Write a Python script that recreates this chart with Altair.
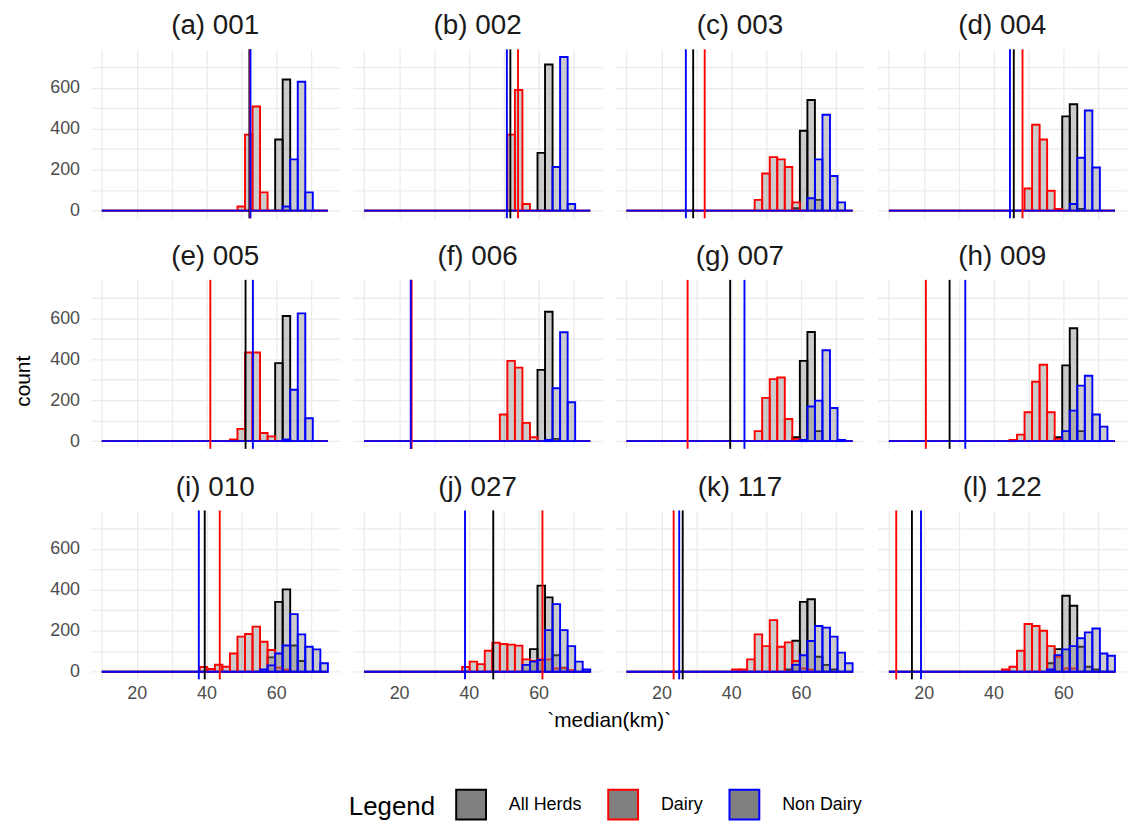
import altair as alt
import pandas as pd

PANELS = ["(a) 001", "(b) 002", "(c) 003", "(d) 004",
          "(e) 005", "(f) 006", "(g) 007", "(h) 009",
          "(i) 010", "(j) 027", "(k) 117", "(l) 122"]
GROUPS = ["All Herds", "Dairy", "Non Dairy"]
COLORS = ["#000000", "#FF0000", "#0000FF"]

# histogram bins (30 bins, shared by all panels)
BIN_START = 10.0
BIN_WIDTH = 2.16
N_BINS = 30

# sparse counts per panel: (index of first listed bin, counts)
ALL_HERDS = {
    "(a) 001": (23, [347, 640]),
    "(b) 002": (23, [282, 713]),
    "(c) 003": (22, [11, 390, 540, 52]),
    "(d) 004": (23, [460, 519, 8]),
    "(e) 005": (23, [381, 611]),
    "(f) 006": (23, [348, 632, 11]),
    "(g) 007": (22, [19, 392, 533, 49]),
    "(h) 009": (22, [19, 370, 551, 49]),
    "(i) 010": (22, [70, 341, 402, 128, 52]),
    "(j) 027": (22, [110, 420, 363, 80, 20]),
    "(k) 117": (21, [11, 151, 341, 354, 73, 33, 11]),
    "(l) 122": (21, [41, 110, 371, 322, 122, 24, 11]),
}
DAIRY = {
    "(a) 001": (18, [20, 371, 508, 89]),
    "(b) 002": (19, [371, 589, 32]),
    "(c) 003": (17, [52, 181, 261, 250, 213, 40]),
    "(d) 004": (18, [108, 419, 347, 97, 8]),
    "(e) 005": (17, [8, 60, 433, 433, 40, 23]),
    "(f) 006": (18, [130, 392, 359, 89, 19]),
    "(g) 007": (17, [49, 211, 303, 311, 108, 11]),
    "(h) 009": (16, [6, 32, 141, 290, 373, 141, 11]),
    "(i) 010": (13, [23, 13, 34, 24, 89, 171, 184, 220, 146, 106, 20, 10]),
    "(j) 027": (13, [23, 49, 37, 102, 141, 135, 132, 127, 60, 52, 60, 60, 16, 18, 8]),
    "(k) 117": (14, [11, 11, 60, 182, 125, 252, 122, 143, 52, 16, 10]),
    "(l) 122": (15, [11, 24, 102, 233, 223, 200, 125, 73, 16, 16]),
}
NON_DAIRY = {
    "(a) 001": (24, [20, 250, 629, 89]),
    "(b) 002": (25, [213, 750, 32]),
    "(c) 003": (24, [60, 250, 468, 169, 40]),
    "(d) 004": (24, [32, 258, 489, 210]),
    "(e) 005": (24, [8, 251, 624, 112]),
    "(f) 006": (24, [6, 258, 532, 190]),
    "(g) 007": (23, [6, 169, 198, 444, 162, 6]),
    "(h) 009": (23, [49, 149, 271, 319, 130, 71]),
    "(i) 010": (21, [11, 31, 89, 128, 281, 182, 122, 109, 41]),
    "(j) 027": (21, [33, 49, 57, 203, 330, 203, 125, 49, 11]),
    "(k) 117": (22, [33, 80, 150, 223, 215, 171, 93, 41]),
    "(l) 122": (21, [11, 81, 109, 125, 163, 192, 211, 89, 78]),
}

# vertical reference lines (median km) per panel
VLINE_ALL = [52.3, 51.9, 29.1, 45.8, 51.2, 23.4, 39.7, 27.4, 39.5, 47.0, 26.1, 16.6]
VLINE_DAIRY = [52.5, 54.1, 32.4, 48.3, 41.1, 23.6, 27.5, 20.6, 43.8, 61.1, 23.5, 12.1]
VLINE_NONDAIRY = [52.6, 50.9, 27.0, 44.7, 53.3, 23.35, 43.8, 31.9, 37.8, 38.9, 25.1, 19.2]

X_TICKS = [10, 20, 30, 40, 50, 60, 70]
Y_TICKS = [0, 100, 200, 300, 400, 500, 600, 700]

rows = []
for g, table in zip(GROUPS, [ALL_HERDS, DAIRY, NON_DAIRY]):
    for p in PANELS:
        start, vals = table[p]
        for k in range(N_BINS):
            c = vals[k - start] if start <= k < start + len(vals) else 0
            rows.append(dict(kind="bar", panel=p, group=g,
                             x0=BIN_START + k * BIN_WIDTH,
                             x1=BIN_START + (k + 1) * BIN_WIDTH,
                             count=c, base=0, value=None))
for g, vl in zip(GROUPS, [VLINE_ALL, VLINE_DAIRY, VLINE_NONDAIRY]):
    for p, v in zip(PANELS, vl):
        rows.append(dict(kind="rule", panel=p, group=g, x0=None, x1=None,
                         count=None, base=None, value=v))
df = pd.DataFrame(rows)

FONT = "Liberation Sans"
color_scale = alt.Scale(domain=GROUPS, range=COLORS)
legend = alt.Legend(title="Legend", orient="none", legendX=260, legendY=744,
                    direction="horizontal", titleOrient="left",
                    titleFontSize=26, titleFontWeight="normal", titleColor="black",
                    titleFont=FONT, labelFont=FONT, labelFontSize=18, labelColor="black",
                    symbolType="square", symbolSize=900, symbolStrokeWidth=2,
                    symbolFillColor="#999999", symbolOpacity=1,
                    columnPadding=22, labelOffset=22, titlePadding=20)

x_scale = alt.Scale(domain=[6.75, 78.25], nice=False, zero=False)
y_scale = alt.Scale(domain=[-37.5, 787.5], nice=False, zero=False)
x_axis = alt.Axis(values=X_TICKS, title=None, ticks=False, domain=False,
                  labelExpr="datum.value % 20 == 0 ? datum.label : ''",
                  gridColor="#ebebeb", gridWidth=1.3, labelFontSize=18,
                  labelColor="#4d4d4d", labelFont=FONT, labelPadding=4)
y_axis = alt.Axis(values=Y_TICKS, title=None, ticks=False, domain=False,
                  labelExpr="datum.value % 200 == 0 ? datum.label : ''",
                  gridColor="#ebebeb", gridWidth=1.3, labelFontSize=18,
                  labelColor="#4d4d4d", labelFont=FONT, labelPadding=11)

bars = alt.Chart().transform_filter("datum.kind == 'bar'").mark_bar(
    fill="#808080", fillOpacity=0.4, strokeWidth=1.9
).encode(
    x=alt.X("x0:Q", scale=x_scale, axis=x_axis),
    x2="x1:Q",
    y=alt.Y("count:Q", scale=y_scale, axis=y_axis),
    y2="base:Q",
    stroke=alt.Stroke("group:N", scale=color_scale, legend=legend),
)

rules = alt.Chart().transform_filter("datum.kind == 'rule'").mark_rule(
    strokeWidth=1.9
).encode(
    x=alt.X("value:Q", scale=x_scale, axis=x_axis),
    stroke=alt.Stroke("group:N", scale=color_scale, legend=legend),
)

chart = alt.layer(bars, rules, data=df).properties(width=251, height=170).facet(
    facet=alt.Facet("panel:N", sort=PANELS, title="`median(km)`",
                    header=alt.Header(labelFontSize=28, labelFont=FONT,
                                      labelColor="#1a1a1a", labelPadding=8,
                                      titleOrient="bottom", titleFontSize=21,
                                      titleFont=FONT, titleFontWeight="normal",
                                      titleColor="black", titlePadding=8)),
    columns=4,
    spacing={"row": 24, "column": 13},
).properties(
    title=alt.TitleParams("count", orient="left", anchor="middle", fontSize=21,
                          font=FONT, fontWeight="normal", color="black", offset=16,
                          dx=37),
    padding={"left": 4, "top": 2, "right": 0, "bottom": 2},
).configure_view(stroke=None)

chart.save("out.html", embed_options={"renderer": "svg", "actions": False})
